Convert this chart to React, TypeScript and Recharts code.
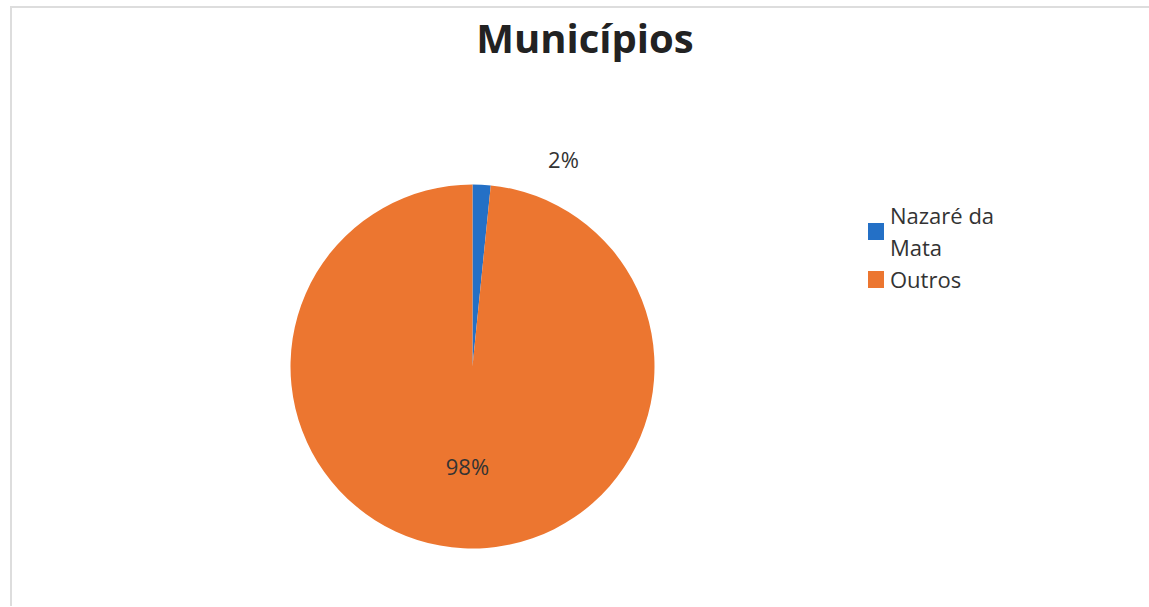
import {PieChart, Pie, Cell} from 'recharts';

const categories = ['Nazaré da Mata', 'Outros'];
const values = [1.6, 98.4];
const labels = ['2%', '98%'];
const colors = ['#2470C6', '#EC7630'];

const data = categories.map((name, i) => ({name, value: values[i], label: labels[i]}));

const FONT = '"Open Sans", "Noto Sans", sans-serif';

function renderLabel(props: any) {
    const {cx, cy, midAngle, outerRadius, index} = props;
    const RAD = Math.PI / 180;
    let x: number;
    let y: number;
    if (index === 0) {
        // small slice: label sits outside, up and to the right
        x = cx + outerRadius * 0.5;
        y = cy - outerRadius - 26;
    } else {
        const r = outerRadius * 0.55;
        x = cx + r * Math.cos(-midAngle * RAD);
        y = cy - r * Math.sin(midAngle * RAD);
    }
    return (
        <text x={x} y={y} fill="#333" fontSize={22} fontFamily={FONT} textAnchor="middle" dominantBaseline="central">
            {data[index].label}
        </text>
    );
}

function ChartLegend() {
    return (
        <div style={{position: 'absolute', left: 868, top: 199, width: 150, fontFamily: FONT, fontSize: 22, color: '#333', lineHeight: '32px'}}>
            {data.map((d, i) => (
                <div key={d.name} style={{display: 'flex', alignItems: 'center'}}>
                    <span style={{display: 'inline-block', width: 16, height: 17, background: colors[i], marginRight: 6, flexShrink: 0}}/>
                    <span>{d.name}</span>
                </div>
            ))}
        </div>
    );
}

export default function App() {
    return (
        <div style={{position: 'absolute', left: 0, top: 0, width: 1149, height: 607, background: '#fff'}}>
            <div style={{position: 'absolute', left: 10, top: 6, width: 1140, height: 600, borderTop: '2px solid #ddd', borderLeft: '2px solid #ddd', boxSizing: 'border-box'}}/>
            <div style={{position: 'absolute', left: 0, top: 10, width: 1170, textAlign: 'center', fontFamily: FONT, fontWeight: 700, fontSize: 40, color: '#222'}}>
                Municípios
            </div>
            <PieChart width={1149} height={607} margin={{top: 0, right: 0, bottom: 0, left: 0}} style={{position: 'absolute', left: 0, top: 0}}>
                <Pie
                    data={data}
                    dataKey="value"
                    nameKey="name"
                    cx={472.5}
                    cy={366.5}
                    outerRadius={182}
                    startAngle={90}
                    endAngle={-270}
                    stroke="none"
                    label={renderLabel}
                    labelLine={false}
                    isAnimationActive={false}
                >
                    {data.map((d, i) => (
                        <Cell key={d.name} fill={colors[i]}/>
                    ))}
                </Pie>
            </PieChart>
            <ChartLegend/>
        </div>
    );
}
